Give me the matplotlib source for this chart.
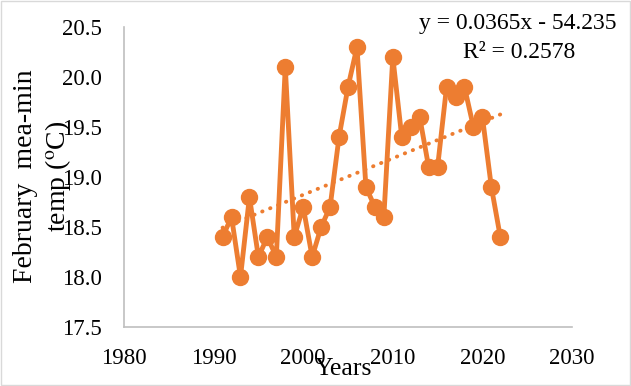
import numpy as np
import matplotlib.pyplot as plt
from matplotlib.patches import Rectangle

# February mean-min temperature per year
years = list(range(1991, 2023))
temps = [18.4, 18.6, 18.0, 18.8, 18.2, 18.4, 18.2, 20.1, 18.4, 18.7,
         18.2, 18.5, 18.7, 19.4, 19.9, 20.3, 18.9, 18.7, 18.6, 20.2,
         19.4, 19.5, 19.6, 19.1, 19.1, 19.9, 19.8, 19.9, 19.5, 19.6,
         18.9, 18.4]
x_ticks = [1980, 1990, 2000, 2010, 2020, 2030]
y_ticks = [17.5, 18.0, 18.5, 19.0, 19.5, 20.0, 20.5]

orange = '#ED7D31'
plt.rcParams['font.family'] = ['Liberation Serif', 'DejaVu Serif']
plt.rcParams['mathtext.fontset'] = 'stix'

fig = plt.figure(figsize=(6.31, 3.86), dpi=100)
ax = fig.add_axes([124 / 631, 59 / 386, 448 / 631, 300 / 386])

ax.plot(years, temps, color=orange, lw=3.5, marker='o', ms=11.5, zorder=3)

# linear trend
coef = np.polyfit(years, temps, 1)
yrs = np.array(years)
ax.plot(yrs, np.polyval(coef, yrs), color=orange, lw=2.8, ls=(0, (0.1, 2.1)),
        dash_capstyle='round', zorder=2)

ax.set_xlim(1980, 2030)
ax.set_ylim(17.5, 20.5)
ax.set_xticks(x_ticks)
ax.set_yticks(y_ticks)
ax.set_yticklabels([f'{v:.1f}' for v in y_ticks])
ax.tick_params(length=0, labelsize=16.5)
ax.tick_params(axis='x', pad=15)
ax.tick_params(axis='y', pad=16)

for s in ['top', 'right']:
    ax.spines[s].set_visible(False)
for s in ['left', 'bottom']:
    ax.spines[s].set_color('#BFBFBF')
    ax.spines[s].set_linewidth(1.2)

fig.text(343 / 631, 1 - 369 / 386, 'Years', ha='center', va='center', fontsize=18.5)
fig.text(43 / 631, 1 - 176 / 386, 'February  mea-min\ntemp ($^{\\mathrm{o}}$C)', ha='center',
         va='center', rotation=90, fontsize=20, linespacing=1.2)

fig.text(518 / 631, 1 - 23 / 386, 'y = 0.0365x - 54.235', ha='center', va='center', fontsize=17)
fig.text(519 / 631, 1 - 52 / 386, 'R² = 0.2578', ha='center', va='center', fontsize=17)

fig.patches.append(Rectangle((0.002, 0.003), 0.996, 0.994, transform=fig.transFigure,
                             fill=False, edgecolor='#D9D9D9', lw=1))

fig.savefig('out.png', dpi=100)
